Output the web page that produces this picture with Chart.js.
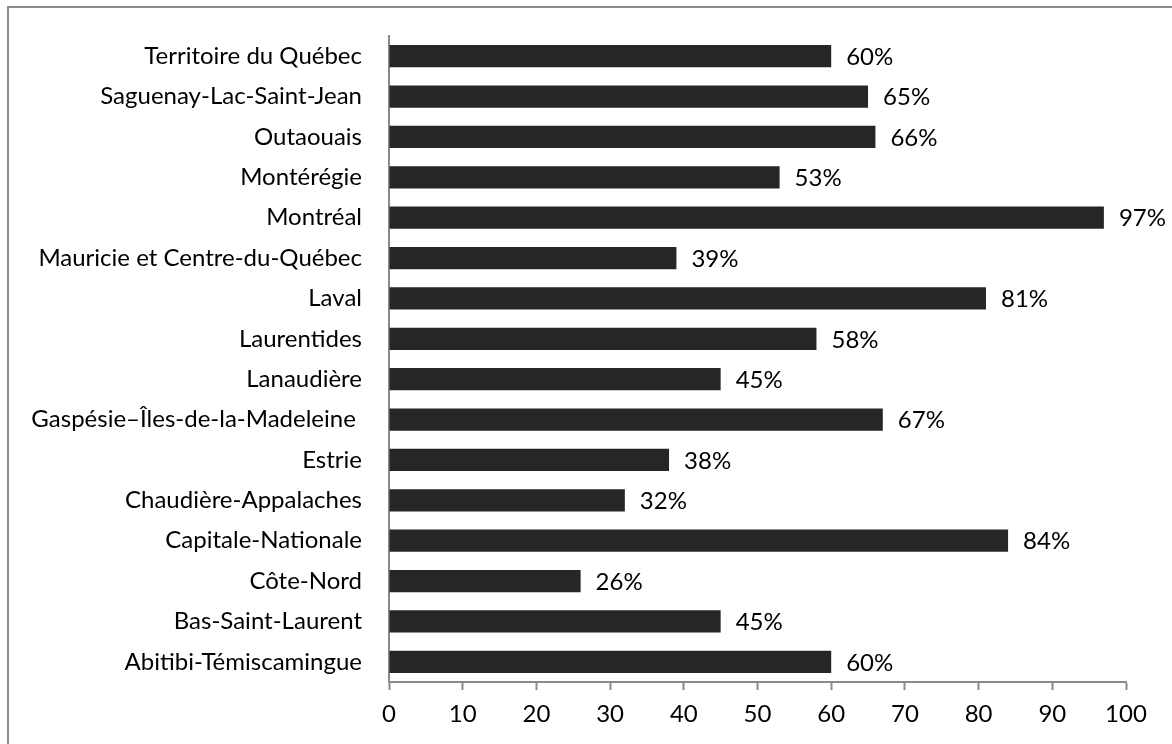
<!DOCTYPE html>
<html>
<head>
<meta charset="utf-8">
<script src="https://cdn.jsdelivr.net/npm/chart.js@4"></script>
<style>
  html, body { margin: 0; padding: 0; background: #fff; overflow: hidden; }
  #wrap { position: relative; width: 1172px; height: 744px; }
  /* frame around the chart, open on the right and bottom */
  #frame { position: absolute; left: 7px; top: 6px; width: 1300px; height: 900px;
           border-top: 2px solid #8c8c8c; border-left: 2px solid #8c8c8c; }
  canvas { position: absolute; left: 0; top: 0; }
</style>
</head>
<body>
<div id="wrap">
  <div id="frame"></div>
  <canvas id="chart" width="1172" height="744"></canvas>
</div>
<script>
// regions, top to bottom
const regions = [
    "Territoire du Québec",
    "Saguenay-Lac-Saint-Jean",
    "Outaouais",
    "Montérégie",
    "Montréal",
    "Mauricie et Centre-du-Québec",
    "Laval",
    "Laurentides",
    "Lanaudière",
    "Gaspésie–Îles-de-la-Madeleine ",
    "Estrie",
    "Chaudière-Appalaches",
    "Capitale-Nationale",
    "Côte-Nord",
    "Bas-Saint-Laurent",
    "Abitibi-Témiscamingue"
];
// percentage per region
const percents = [60, 65, 66, 53, 97, 39, 81, 58, 45, 67, 38, 32, 84, 26, 45, 60];
const xTicks = [0, 10, 20, 30, 40, 50, 60, 70, 80, 90, 100];

const fontFamily = "Lato, 'Open Sans', sans-serif";
const fontSize = 24;
const axisGray = "#8a8a8a";

// write "NN%" to the right of each bar
const valueLabels = {
    id: "valueLabels",
    afterDatasetsDraw(chart) {
        const ctx = chart.ctx;
        const meta = chart.getDatasetMeta(0);
        ctx.save();
        ctx.font = fontSize + "px " + fontFamily;
        ctx.fillStyle = "#000";
        ctx.textAlign = "left";
        ctx.textBaseline = "middle";
        meta.data.forEach((bar, i) => {
            ctx.fillText(percents[i] + "%", bar.x + 15, bar.y + 1);
        });
        ctx.restore();
    }
};

new Chart(document.getElementById("chart"), {
    type: "bar",
    data: {
        labels: regions,
        datasets: [{
            data: percents,
            backgroundColor: "#262626",
            borderWidth: 0,
            barPercentage: 0.55,
            categoryPercentage: 1
        }]
    },
    options: {
        indexAxis: "y",
        responsive: false,
        animation: false,
        layout: { padding: { top: 36, right: 46, bottom: 0, left: 0 } },
        plugins: {
            legend: { display: false },
            tooltip: { enabled: false }
        },
        scales: {
            x: {
                min: 0,
                max: 100,
                afterBuildTicks: (scale) => {
                    scale.ticks = xTicks.map(v => ({ value: v }));
                },
                afterFit: (scale) => { scale.height = 62; },
                grid: {
                    display: true,
                    drawOnChartArea: false,
                    drawTicks: true,
                    tickLength: 8,
                    tickWidth: 2,
                    tickColor: axisGray
                },
                border: { display: true, color: axisGray, width: 2 },
                ticks: {
                    color: "#000",
                    padding: 12,
                    maxRotation: 0,
                    font: { family: fontFamily, size: fontSize, lineHeight: 1 }
                }
            },
            y: {
                afterFit: (scale) => {
                    scale.width = 389;
                    // keep the label padding from pushing the plot down
                    scale.paddingTop = 0;
                    scale.paddingBottom = 0;
                },
                grid: { display: false, drawTicks: false },
                border: { display: true, color: axisGray, width: 2 },
                ticks: {
                    color: "#000",
                    padding: 27,
                    autoSkip: false,
                    font: { family: fontFamily, size: fontSize }
                }
            }
        }
    },
    plugins: [valueLabels]
});
</script>
</body>
</html>
